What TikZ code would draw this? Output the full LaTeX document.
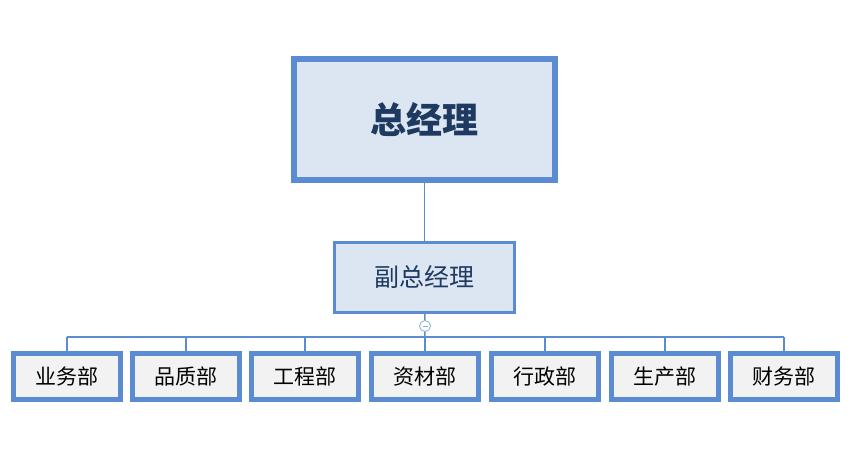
\documentclass[tikz,border=0pt]{standalone}
\usepackage{fontspec}
\newfontfamily\cjk{Noto Sans CJK SC}
\definecolor{frameblue}{HTML}{5B8BD0}
\definecolor{paleblue}{HTML}{DCE6F2}
\definecolor{palegray}{HTML}{F2F2F2}
\definecolor{textblue}{HTML}{1F3A60}
\begin{document}
\begin{tikzpicture}[x=1pt, y=-1pt, line join=miter]
                \useasboundingbox (0,0) rectangle (850,462);
                \tikzset{every node/.style={draw=frameblue, rectangle, inner sep=0pt, font=\cjk}}
                \begin{scope}[every node/.style={draw=frameblue, fill=paleblue, line width=6pt, minimum width=261pt, minimum height=121pt, text=textblue, font=\cjk\bfseries\fontsize{36}{40}\selectfont}]
                \node (gm) at (424.5,119.5) {总经理};
                \end{scope}
                \begin{scope}[every node/.style={draw=frameblue, fill=paleblue, line width=3pt, minimum width=180pt, minimum height=70pt, text=textblue, font=\cjk\fontsize{25}{30}\selectfont}]
                \node (vgm) at (424.5,277.5) {副总经理};
                \end{scope}
                \begin{scope}[every node/.style={draw=frameblue, fill=palegray, line width=5pt, minimum width=107pt, minimum height=46pt, text=black, font=\cjk\fontsize{21}{25}\selectfont}]
                \node (d1) at (67,376.5) {业务部};
                \node (d2) at (186,376.5) {品质部};
                \node (d3) at (305,376.5) {工程部};
                \node (d4) at (425,376.5) {资材部};
                \node (d5) at (545,376.5) {行政部};
                \node (d6) at (665,376.5) {生产部};
                \node (d7) at (784,376.5) {财务部};
                \end{scope}
                \coordinate (bus) at (425,337);
                \begin{scope}[draw=frameblue, line width=1.5pt]
                \draw (gm) -- (vgm);
                \draw (vgm) -- (bus);
                \foreach \d in {d1,d2,d3,d4,d5,d6,d7}
                  \draw (\d.north) -- (\d.north |- bus);
                \draw (d1.north |- bus) -- (d7.north |- bus);
                \end{scope}
                \node[circle, draw=frameblue!70, fill=white, line width=0.8pt, minimum size=11pt] (fold) at (425,326) {};
                \draw[frameblue!70, line width=0.8pt] ([xshift=-2.5pt]fold.center) -- ([xshift=2.5pt]fold.center);
                \end{tikzpicture}
\end{document}
